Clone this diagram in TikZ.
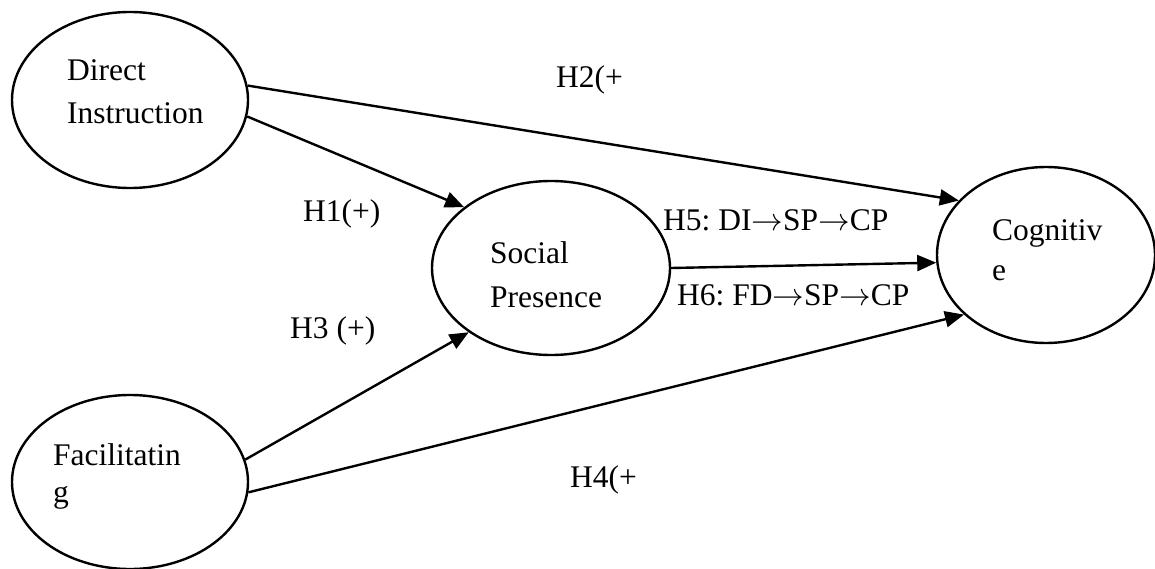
\documentclass[tikz,border=0pt]{standalone}
\usepackage{graphicx}
\usepackage{fontspec}
\setmainfont{Liberation Serif}
\usetikzlibrary{shapes.geometric,arrows.meta}
\frenchspacing
\newcommand{\hto}{\scalebox{1.27}{\(\rightarrow\)}}

\begin{document}
\begin{tikzpicture}[x=1pt,y=-1pt,
    construct/.style={draw,ellipse,line width=2.4pt,inner sep=0pt},
    path/.style={line width=2.4pt,-{Triangle[length=19pt,width=16pt]}},
    txt/.style={anchor=base west,inner sep=0pt,align=left,font=\fontsize{31.5}{43}\selectfont}]

    % Fix the margins
    \useasboundingbox (0,0) rectangle (1155,569);

    % Creates the ellipses
    \node[construct,minimum width=236pt,minimum height=176pt] (di) at (130,100) {};
    \node[construct,minimum width=238pt,minimum height=174pt] (sp) at (551,268) {};
    \node[construct,minimum width=218pt,minimum height=176pt] (cog) at (1046,255) {};
    \node[construct,minimum width=236pt,minimum height=174pt] (fac) at (130,482) {};

    % Names inside the ellipses (anchored at the last line)
    \node[txt] (diname) at (67,124) {Direct\\Instruction};
    \node[txt] (spname) at (490,307) {Social\\[1pt]Presence};
    \node[txt] (cogname) at (992,280) {Cognitiv\\[-3pt]e};
    \node[txt] (facname) at (53,502) {Facilitatin\\[-6pt]g};

    % Draw paths
    \draw[path] (di.-8) -- (sp.145);
    \draw[path] (di.7) -- (cog.148);
    \draw[path] (sp.0) -- (cog.184);
    \draw[path] (fac.11) -- (sp.218);
    \draw[path] (fac.-5) -- (cog.216);

    % Hypotheses
    \node[txt] (h1) at (303,222) {H1(+)};
    \node[txt] (h2) at (556,88) {H2(+};
    \node[txt] (h3) at (290,338) {H3 (+)};
    \node[txt] (h4) at (570,487) {H4(+};
    \node[txt] (h5) at (663,230) {H5: DI\hto SP\hto CP};
    \node[txt] (h6) at (677,305) {H6: FD\hto SP\hto CP};

\end{tikzpicture}
\end{document}
